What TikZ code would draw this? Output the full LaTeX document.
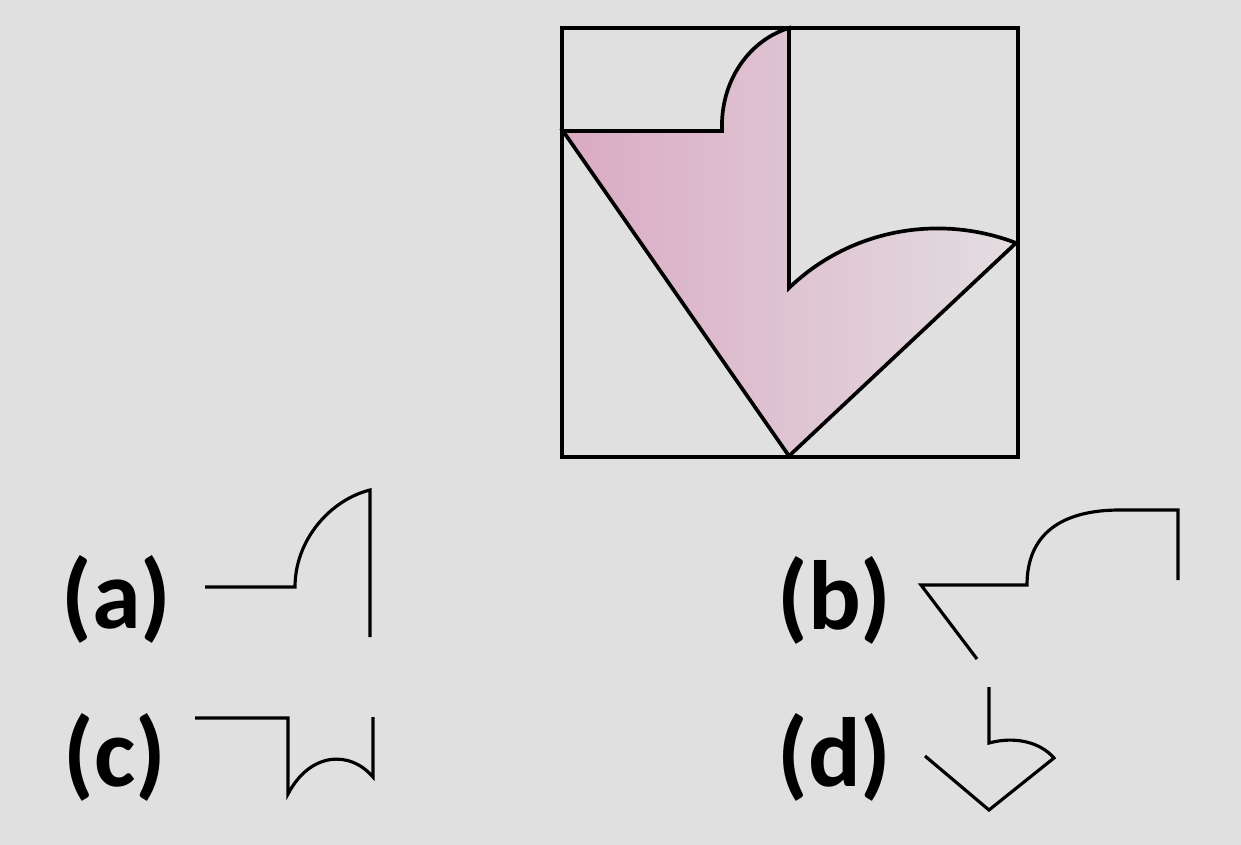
\documentclass[tikz,border=0pt]{standalone}
\usepackage{fontspec}
\setmainfont{Carlito}
\definecolor{bgc}{RGB}{224,224,224}
\definecolor{pinkL}{RGB}{218,170,195}
\definecolor{pinkR}{RGB}{227,221,224}
\begin{document}
\begin{tikzpicture}[x=0.02cm,y=-0.02cm,
  frame/.style={line width=2.1pt,line join=miter},
  opt/.style={line width=1.8pt,line join=miter},
  lbl/.style={font=\fontsize{56}{62}\selectfont\bfseries,inner sep=0pt,anchor=west}]
\fill[bgc] (0,0) rectangle (1241,845);
\useasboundingbox (0,0) rectangle (1241,845);
% main figure
\shadedraw[frame,left color=pinkL,right color=pinkR]
  (563,131) -- (722,131) .. controls (720,80) and (750,40) .. (789,28)
  -- (789,288) .. controls (849,230) and (938,213) .. (1016,243)
  -- (789,456) -- cycle;
\draw[frame] (562,28) rectangle (1018,457);
% labels
\node[lbl] (la) at (61,599) {(a)};
\node[lbl] (lb) at (777,600) {(b)};
\node[lbl] (lc) at (63,757) {(c)};
\node[lbl] (ld) at (777,757) {(d)};
% option a
\draw[opt] (205,587) -- (295,587) .. controls (295,540) and (330,500) .. (370,490) -- (370,637);
% option b
\draw[opt] (977,659) -- (921,585) -- (1027,585) .. controls (1027,535) and (1060,510) .. (1120,510) -- (1178,510) -- (1178,580);
% option c
\draw[opt] (195,718) -- (288,718) -- (288,794) .. controls (310,752) and (350,750) .. (373,777) -- (373,717);
% option d
\draw[opt] (989,687) -- (989,743) .. controls (1015,736) and (1040,742) .. (1054,758) -- (989,810) -- (925,756);
\end{tikzpicture}
\end{document}
